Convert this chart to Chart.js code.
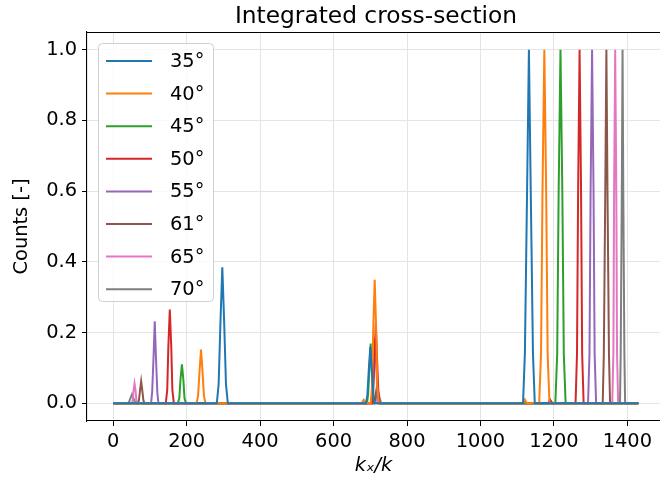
<!DOCTYPE html>
<html>
<head>
<meta charset="utf-8">
<script src="https://cdn.jsdelivr.net/npm/chart.js@4.4.1/dist/chart.umd.min.js"></script>
<style>
  html, body { margin: 0; padding: 0; background: #fff; overflow: hidden; }
  #wrap { width: 660px; height: 484px; }
</style>
</head>
<body>
<div id="wrap"><canvas id="chart" width="660" height="484"></canvas></div>
<script>
// --- dados (k_x/k, contagens normalizadas) ---
const labels = ['35°', '40°', '45°', '50°', '55°', '61°', '65°', '70°'];
const colors = ['#1f77b4', '#ff7f0e', '#2ca02c', '#d62728', '#9467bd', '#8c564b', '#e377c2', '#7f7f7f'];

const s35 = [[0,0],[282,0],[287,.054],[292,.231],[297,.385],[302,.231],[307,.054],[312,0],
  [688,0],[692,.022],[696,.096],[700,.16],[704,.096],[708,.022],[712,0],
  [1116,0],[1121,.14],[1127,.6],[1132,1],[1137,.6],[1143,.14],[1148,0],[1430,0]];
const s40 = [[0,0],[227,0],[231,.021],[235,.091],[239,.152],[243,.091],[247,.021],[251,0],
  [676,0],[682,.01],[688,0],
  [701,0],[705,.049],[708,.209],[712,.349],[716,.209],[719,.049],[723,0],
  [1116,0],[1121,.01],[1126,0],
  [1160,0],[1165,.14],[1169,.6],[1174,1],[1179,.6],[1183,.14],[1188,0],[1430,0]];
const s45 = [[0,0],[176,0],[180,.015],[183,.066],[187,.11],[191,.066],[194,.015],[198,0],
  [691,0],[694,.024],[698,.101],[701,.169],[704,.101],[708,.024],[711,0],
  [1204,0],[1209,.14],[1213,.6],[1218,1],[1223,.6],[1227,.14],[1232,0],[1430,0]];
const s50 = [[0,0],[143,0],[147,.037],[150,.159],[154,.265],[158,.159],[161,.037],[165,0],
  [705,0],[708,.032],[712,.136],[715,.227],[718,.136],[722,.032],[725,0],
  [1184,0],[1190,.01],[1196,0],
  [1259,0],[1263,.14],[1266,.6],[1270,1],[1274,.6],[1277,.14],[1281,0],[1430,0]];
const s55 = [[0,0],[103,0],[106,.032],[110,.139],[113,.232],[116,.139],[120,.032],[123,0],
  [703,0],[706,.026],[710,.111],[713,.185],[716,.111],[720,.026],[723,0],
  [1293,0],[1297,.14],[1300,.6],[1304,1],[1308,.6],[1311,.14],[1315,0],[1430,0]];
const s61 = [[0,0],[67,0],[70,.009],[73,.037],[76,.062],[79,.037],[82,.009],[85,0],
  [709,0],[712,.006],[715,.028],[718,.046],[721,.028],[724,.006],[727,0],
  [1333,0],[1336,.14],[1340,.6],[1343,1],[1346,.6],[1350,.14],[1353,0],[1430,0]];
const s65 = [[0,0],[50,0],[53,.008],[55,.034],[58,.056],[61,.034],[63,.008],[66,0],
  [712,0],[720,.012],[728,0],
  [1359,0],[1362,.14],[1364,.6],[1367,1],[1370,.6],[1372,.14],[1375,0],[1430,0]];
const s70 = [[0,0],[39,0],[43,.004],[47,.015],[51,.025],[55,.015],[59,.004],[63,0],
  [711,0],[714,.005],[718,.022],[721,.037],[724,.022],[728,.005],[731,0],
  [1380,0],[1382,.14],[1385,.6],[1387,1],[1389,.6],[1392,.14],[1394,0],[1430,0]];
const series = [s35, s40, s45, s50, s55, s61, s65, s70];

const xTicks = [0, 200, 400, 600, 800, 1000, 1200, 1400];
const yTicks = [0, 0.2, 0.4, 0.6, 0.8, 1.0];

const FONT = "'DejaVu Sans', sans-serif";
const FS = 19.4;

// Título, eixo de cima e legenda desenhados à mão (estilo matplotlib)
const mplExtras = {
  id: 'mplExtras',
  afterDatasetsDraw(chart) {
    const { ctx, chartArea } = chart;
    ctx.save();
    // eixo superior
    ctx.strokeStyle = '#000';
    ctx.lineWidth = 1.1;
    ctx.beginPath();
    ctx.moveTo(chartArea.left, chartArea.top + 0.5);
    ctx.lineTo(chartArea.right, chartArea.top + 0.5);
    ctx.stroke();

    // legenda
    const bx = 98.5, by = 43.5, bw = 115, bh = 258, r = 4;
    ctx.beginPath();
    ctx.moveTo(bx + r, by);
    ctx.arcTo(bx + bw, by, bx + bw, by + bh, r);
    ctx.arcTo(bx + bw, by + bh, bx, by + bh, r);
    ctx.arcTo(bx, by + bh, bx, by, r);
    ctx.arcTo(bx, by, bx + bw, by, r);
    ctx.closePath();
    ctx.fillStyle = 'rgba(255,255,255,0.8)';
    ctx.fill();
    ctx.strokeStyle = '#d0d0d0';
    ctx.lineWidth = 1;
    ctx.stroke();

    ctx.font = `${FS}px ${FONT}`;
    ctx.textBaseline = 'middle';
    ctx.textAlign = 'left';
    chart.data.datasets.forEach((ds, i) => {
      const y = 61 + i * 32.6;
      ctx.strokeStyle = ds.borderColor;
      ctx.lineWidth = 2;
      ctx.beginPath();
      ctx.moveTo(106, y);
      ctx.lineTo(152, y);
      ctx.stroke();
      ctx.fillStyle = '#000';
      ctx.fillText(ds.label, 170, y + 1);
    });

    // título
    ctx.font = `${23.3}px ${FONT}`;
    ctx.textAlign = 'center';
    ctx.textBaseline = 'alphabetic';
    ctx.fillText('Integrated cross-section', 376, 23);
    ctx.restore();
  }
};

new Chart(document.getElementById('chart'), {
  type: 'scatter',
  data: {
    datasets: series.map((s, i) => ({
      label: labels[i],
      data: s.map(p => ({ x: p[0], y: p[1] })),
      showLine: true,
      borderColor: colors[i],
      backgroundColor: colors[i],
      borderWidth: 2,
      pointRadius: 0,
      tension: 0
    }))
  },
  options: {
    responsive: false,
    animation: false,
    devicePixelRatio: 1,
    layout: { padding: { top: 32, right: 0, bottom: 0, left: 0 } },
    plugins: {
      legend: { display: false },
      title: { display: false },
      tooltip: { enabled: false }
    },
    scales: {
      x: {
        type: 'linear',
        min: -71.5,
        max: 1489,
        afterFit: s => { s.height = 63; },
        afterBuildTicks: s => { s.ticks = xTicks.map(v => ({ value: v })); },
        grid: { color: '#e4e4e4', lineWidth: 1, tickLength: 5, tickColor: '#000', drawTicks: true },
        border: { color: '#000', width: 1.1 },
        ticks: { color: '#000', font: { family: FONT, size: FS }, padding: 4, maxRotation: 0,
          callback: v => String(v) },
        title: { display: true, text: 'kₓ/k', color: '#000',
          font: { family: FONT, size: FS, style: 'italic' }, padding: { top: 0, bottom: 6 } }
      },
      y: {
        type: 'linear',
        min: -0.05,
        max: 1.05,
        afterFit: s => { s.width = 87; },
        afterBuildTicks: s => { s.ticks = yTicks.map(v => ({ value: v })); },
        grid: { color: '#e4e4e4', lineWidth: 1, tickLength: 5, tickColor: '#000', drawTicks: true },
        border: { color: '#000', width: 1.1 },
        ticks: { color: '#000', font: { family: FONT, size: FS }, padding: 5,
          callback: v => v.toFixed(1) },
        title: { display: true, text: 'Counts [-]', color: '#000',
          font: { family: FONT, size: FS }, padding: { top: 10, bottom: 0 } }
      }
    }
  },
  plugins: [mplExtras]
});
</script>
</body>
</html>
